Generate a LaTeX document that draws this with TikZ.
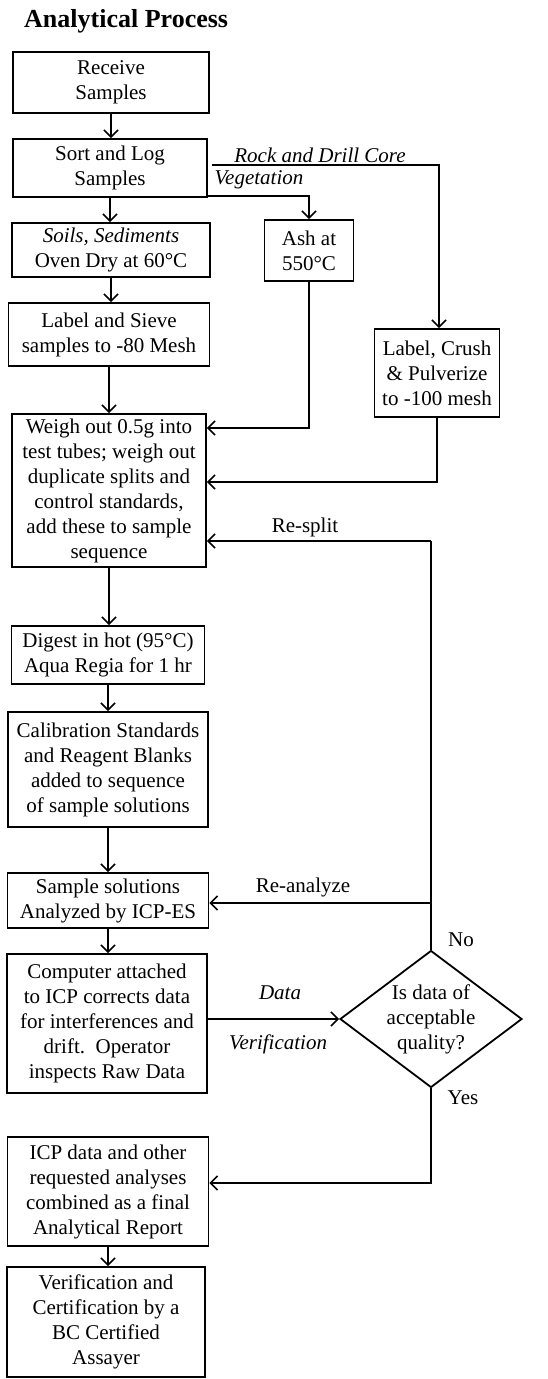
\documentclass[tikz,border=0pt]{standalone}
\usepackage{fontspec}
\setmainfont{Liberation Serif}
\usetikzlibrary{arrows.meta,shapes.geometric}
\begin{document}
\begin{tikzpicture}[x=1pt,y=-1pt,
  box/.style={draw, line width=1.8pt, align=center, inner sep=1pt, font=\fontsize{21}{25}\selectfont},
  arr/.style={line width=1.8pt, -{Straight Barb[length=7pt,width=14pt,line width=1.6pt]}},
  ln/.style={line width=1.8pt},
  lbl/.style={font=\fontsize{21}{25}\selectfont, inner sep=0pt},
  ilbl/.style={font=\fontsize{21}{25}\selectfont\itshape, inner sep=0pt}]
\useasboundingbox (0,0) rectangle (547,1379);

\node[anchor=base west, inner sep=0pt, font=\fontsize{26}{30}\selectfont\bfseries] (title) at (24,27) {Analytical Process};

\node[box, minimum width=196pt, minimum height=61pt] (recv) at (111,82.5) {Receive\\Samples};
\node[box, minimum width=194pt, minimum height=58pt] (sort) at (110,168) {Sort and Log\\Samples};
\node[box, minimum width=198pt, minimum height=54pt] (soils) at (111,250) {\textit{Soils, Sediments}\\Oven Dry at 60°C};
\node[box, minimum width=89pt, minimum height=61pt] (ash) at (309,250.5) {Ash at\\550°C};
\node[box, minimum width=201pt, minimum height=63pt] (sieve) at (109,334.5) {Label and Sieve\\samples to -80 Mesh};
\node[box, minimum width=125pt, minimum height=88pt] (crush) at (437,373) {Label, Crush\\\& Pulverize\\to -100 mesh};
\node[box, minimum width=194pt, minimum height=153pt] (weigh) at (109,490.5) {Weigh out 0.5g into\\test tubes; weigh out\\duplicate splits and\\control standards,\\add these to sample\\sequence};
\node[box, minimum width=193pt, minimum height=58pt] (digest) at (108,655) {Digest in hot (95°C)\\Aqua Regia for 1 hr};
\node[box, minimum width=200pt, minimum height=115pt] (calib) at (108,769.5) {Calibration Standards\\and Reagent Blanks\\added to sequence\\of sample solutions};
\node[box, minimum width=201pt, minimum height=55pt] (sample) at (108,900.5) {Sample solutions\\Analyzed by ICP-ES};
\node[box, minimum width=200pt, minimum height=139pt] (comp) at (107,1023.5) {Computer attached\\to ICP corrects data\\for interferences and\\drift.\ \ Operator\\inspects Raw Data};
\node[box, shape=diamond, aspect=1.33, inner sep=0pt, minimum width=182pt, minimum height=137pt] (dia) at (431,1019) {Is data of\\acceptable\\quality?};
\node[box, minimum width=201pt, minimum height=109pt] (icp) at (108,1191.5) {ICP data and other\\requested analyses\\combined as a final\\Analytical Report};
\node[box, minimum width=198pt, minimum height=110pt] (verif) at (106,1322) {Verification and\\Certification by a\\BC Certified\\Assayer};

% main vertical flow
\draw[arr] (recv.south) -- (recv.south |- sort.north);
\draw[arr] (sort.south) -- (sort.south |- soils.north);
\draw[arr] (soils.south) -- (soils.south |- sieve.north);
\draw[arr] (sieve.south) -- (sieve.south |- weigh.north);
\draw[arr] (weigh.south) -- (weigh.south |- digest.north);
\draw[arr] (digest.south) -- (digest.south |- calib.north);
\draw[arr] (calib.south) -- (calib.south |- sample.north);
\draw[arr] (sample.south) -- (sample.south |- comp.north);
\draw[arr] (icp.south) -- (icp.south |- verif.north);

% branches from sort
\coordinate (rockturn) at (439,165);
\coordinate (vegturn) at (ash.north |- 0,196);
\draw[arr] (sort.east |- rockturn) ++(4,0) -- (rockturn) -- (crush.north -| rockturn);
\draw[arr] (sort.east |- vegturn) -- (vegturn) -- (ash.north);
\node[ilbl] (rocklbl) at (320,155) {Rock and Drill Core};
\node[ilbl] (veglbl) at (259,180) {Vegetation};

% into weigh
\coordinate (ashturn) at (ash.south |- 0,428);
\draw[arr] (ash.south) -- (ashturn) -- (weigh.east |- ashturn);
\coordinate (crushturn) at (crush.south |- 0,482);
\draw[arr] (crush.south) -- (crushturn) -- (weigh.east |- crushturn);

% decision loop
\coordinate (resplit) at (dia.north |- 0,541);
\coordinate (reana) at (dia.north |- 0,903);
\draw[ln] (dia.north) -- (resplit);
\draw[arr] (resplit) -- (weigh.east |- resplit);
\draw[arr] (reana) -- (sample.east |- reana);
\node[lbl] (resplitlbl) at (305,527) {Re-split};
\node[lbl] (reanalbl) at (303,887) {Re-analyze};
\node[lbl] (nolbl) at (461,940) {No};

\draw[arr] (comp.east |- dia.west) -- (dia.west);
\node[ilbl] (datalbl) at (280,993) {Data};
\node[ilbl] (veriflbl) at (278,1044) {Verification};

\coordinate (yesturn) at (dia.south |- 0,1183);
\draw[arr] (dia.south) -- (yesturn) -- (icp.east |- yesturn);
\node[lbl] (yeslbl) at (463,1098) {Yes};
\end{tikzpicture}
\end{document}
